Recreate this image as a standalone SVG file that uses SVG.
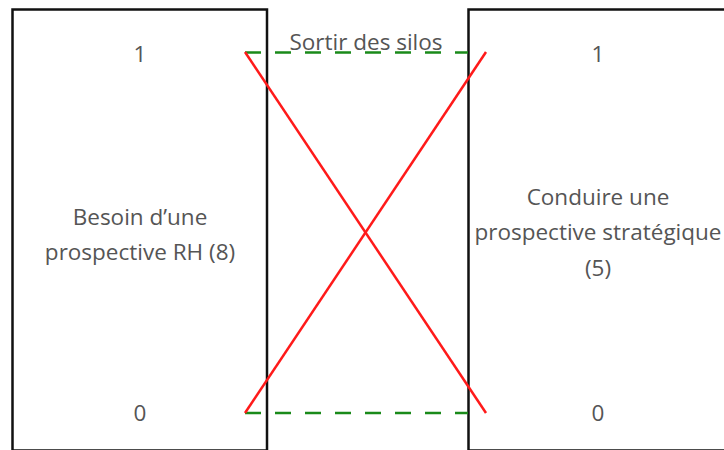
<svg xmlns="http://www.w3.org/2000/svg" width="724" height="450" viewBox="0 0 724 450">
<style>
.box{fill:#fff;stroke:#111;stroke-width:2.5}
.t{font-family:"Open Sans","Noto Sans",sans-serif;font-size:22.5px;fill:#555;text-anchor:middle}
.g{stroke:#1a8a1a;stroke-width:2.5;stroke-dasharray:16 14;fill:none}
.r{stroke:#ff1a1a;stroke-width:2.5;fill:none}
</style>
<rect width="724" height="450" fill="#fff"/>
<g id="left">
<rect class="box" x="12.5" y="9.5" width="254.5" height="441"/>
<text class="t" x="140" y="62">1</text>
<text class="t" x="140" y="225">Besoin d’une</text>
<text class="t" x="140" y="260">prospective RH (8)</text>
<text class="t" x="140" y="421">0</text>
</g>
<g id="right">
<rect class="box" x="468.5" y="9.5" width="260" height="441"/>
<text class="t" x="598" y="62">1</text>
<text class="t" x="598" y="205">Conduire une</text>
<text class="t" x="598" y="240">prospective stratégique</text>
<text class="t" x="598" y="276">(5)</text>
<text class="t" x="598" y="421">0</text>
</g>
<g id="connectors">
<line class="g" x1="245" y1="52.5" x2="468" y2="52.5"/>
<line class="g" x1="245" y1="413" x2="468" y2="413"/>
<line class="r" x1="245" y1="52" x2="486" y2="413"/>
<line class="r" x1="245" y1="413" x2="486" y2="52"/>
</g>
<text id="label" class="t" x="366" y="50">Sortir des silos</text>
</svg>
